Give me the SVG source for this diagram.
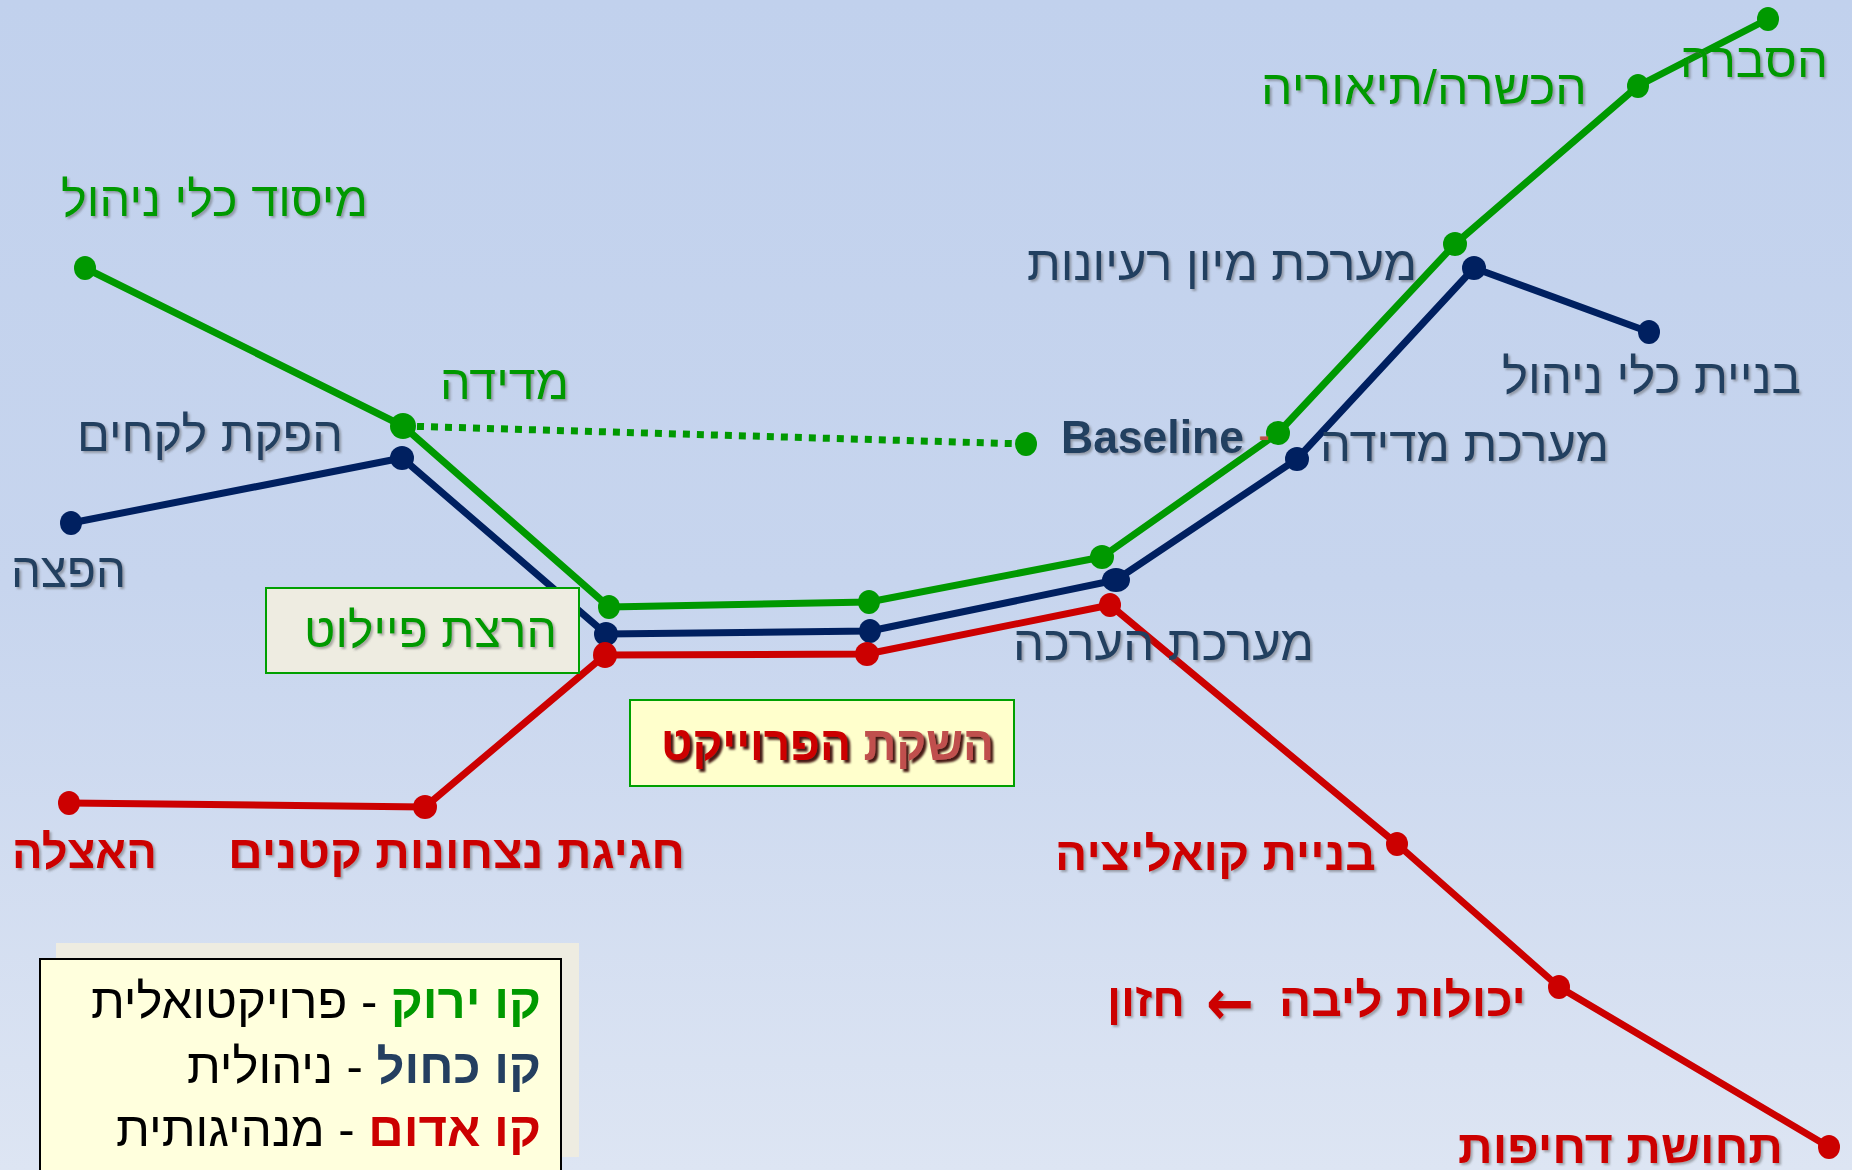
<svg xmlns="http://www.w3.org/2000/svg" width="1852" height="1170" viewBox="0 0 1852 1170">
<defs>
<linearGradient id="bg" x1="0" y1="0" x2="0" y2="1">
<stop offset="0" stop-color="#C1D1ED"/>
<stop offset="0.5" stop-color="#C7D5EE"/>
<stop offset="1" stop-color="#DDE5F3"/>
</linearGradient>
<filter id="sh" x="-5%" y="-20%" width="115%" height="150%">
<feDropShadow dx="2" dy="2" stdDeviation="1.2" flood-color="#555" flood-opacity="0.45"/>
</filter>
<filter id="sh2" x="-5%" y="-20%" width="115%" height="150%">
<feDropShadow dx="3" dy="3" stdDeviation="1" flood-color="#300000" flood-opacity="0.9"/>
</filter>
</defs>
<style>
text{font-family:"Liberation Sans","DejaVu Sans",sans-serif;}
.g{fill:#009900;font-size:49px;}
.b{fill:#243F60;font-size:49px;}
.r{fill:#CC0000;font-size:47px;font-weight:bold;}
.lbl{filter:url(#sh);}
.gl{fill:none;stroke:#009900;stroke-width:7;stroke-linejoin:round;}
.bl{fill:none;stroke:#002060;stroke-width:7;stroke-linejoin:round;}
.rl{fill:none;stroke:#CC0000;stroke-width:7;stroke-linejoin:round;}
.gd{fill:#009900;}
.bd{fill:#002060;}
.rd{fill:#CC0000;}
.leg{font-size:48px;fill:#000;}
</style>
<rect x="0" y="0" width="1852" height="1170" fill="url(#bg)"/>

<g id="connectors">
<polyline class="gl" points="85,268 403,426 609,607 869,602 1102,557 1278,433 1455,244 1638,86 1768,19"/>
<polyline class="gl" points="403,426 1026,444" stroke-dasharray="7 7"/>
<polyline class="bl" points="71,523 402,458 606,634 870,631 1116,580 1297,459 1474,268 1649,332"/>
<polyline class="rl" points="69,803 425,807 605,655 867,654 1110,605 1397,844 1559,987 1829,1147"/>
</g>

<g id="green-nodes">
<g id="g-misud"><ellipse class="gd" cx="85" cy="268" rx="11" ry="12"/><text class="g lbl" x="368" y="216" text-anchor="end" textLength="307" lengthAdjust="spacingAndGlyphs">מיסוד כלי ניהול</text></g>
<g id="g-medida"><ellipse class="gd" cx="403" cy="426" rx="13" ry="13"/><text class="g lbl" x="569" y="399" text-anchor="end" textLength="129" lengthAdjust="spacingAndGlyphs">מדידה</text></g>
<g id="g-baseline"><ellipse class="gd" cx="1026" cy="444" rx="11" ry="12"/></g>
<g id="g-pilot-pt"><ellipse class="gd" cx="609" cy="607" rx="11" ry="12"/></g>
<g id="g-launch-pt"><ellipse class="gd" cx="869" cy="602" rx="11" ry="12"/></g>
<g id="g-eval-pt"><ellipse class="gd" cx="1102" cy="557" rx="12" ry="12"/></g>
<g id="g-measure-pt"><ellipse class="gd" cx="1278" cy="433" rx="12" ry="12"/></g>
<g id="g-ideas-pt"><ellipse class="gd" cx="1455" cy="244" rx="12" ry="12"/></g>
<g id="g-hachshara"><ellipse class="gd" cx="1638" cy="86" rx="11" ry="12"/><text class="g lbl" x="1587" y="104" text-anchor="end" textLength="326" lengthAdjust="spacingAndGlyphs">הכשרה/תיאוריה</text></g>
<g id="g-hasbara"><ellipse class="gd" cx="1768" cy="19" rx="11" ry="12"/><text class="g lbl" x="1828" y="77" text-anchor="end" textLength="148" lengthAdjust="spacingAndGlyphs">הסברה</text></g>
</g>

<g id="blue-nodes">
<g id="b-hafatza"><ellipse class="bd" cx="71" cy="523" rx="11" ry="12"/><text class="b lbl" x="126" y="587" text-anchor="end" textLength="115" lengthAdjust="spacingAndGlyphs">הפצה</text></g>
<g id="b-lekachim"><ellipse class="bd" cx="402" cy="458" rx="12" ry="12"/><text class="b lbl" x="343" y="451" text-anchor="end" textLength="266" lengthAdjust="spacingAndGlyphs">הפקת לקחים</text></g>
<g id="b-pilot-pt"><ellipse class="bd" cx="606" cy="634" rx="12" ry="12"/></g>
<g id="b-launch-pt"><ellipse class="bd" cx="870" cy="631" rx="11" ry="12"/></g>
<g id="b-haaracha"><ellipse class="bd" cx="1116" cy="580" rx="14" ry="12"/><text class="b lbl" x="1314" y="660" text-anchor="end" textLength="301" lengthAdjust="spacingAndGlyphs">מערכת הערכה</text></g>
<g id="b-medida"><ellipse class="bd" cx="1297" cy="459" rx="12" ry="12"/><text class="b lbl" x="1609" y="461" text-anchor="end" textLength="289" lengthAdjust="spacingAndGlyphs">מערכת מדידה</text></g>
<g id="b-miyun"><ellipse class="bd" cx="1474" cy="268" rx="12" ry="12"/><text class="b lbl" x="1417" y="280" text-anchor="end" textLength="390" lengthAdjust="spacingAndGlyphs">מערכת מיון רעיונות</text></g>
<g id="b-klei"><ellipse class="bd" cx="1649" cy="332" rx="11" ry="12"/><text class="b lbl" x="1801" y="393" text-anchor="end" textLength="299" lengthAdjust="spacingAndGlyphs">בניית כלי ניהול</text></g>
<g id="baseline-label"><text class="lbl" x="1061" y="453" font-size="46" font-weight="bold" fill="#243F60" textLength="183" lengthAdjust="spacingAndGlyphs">Baseline</text><text x="1259" y="446" font-size="30" font-weight="bold" fill="#C0504D">-</text></g>
</g>

<g id="red-nodes">
<g id="r-haatzala"><ellipse class="rd" cx="69" cy="803" rx="11" ry="12"/><text class="r lbl" x="157" y="868" text-anchor="end" textLength="145" lengthAdjust="spacingAndGlyphs">האצלה</text></g>
<g id="r-chagigat"><ellipse class="rd" cx="425" cy="807" rx="12" ry="12"/><text class="r lbl" x="685" y="868" text-anchor="end" textLength="457" lengthAdjust="spacingAndGlyphs">חגיגת נצחונות קטנים</text></g>
<g id="r-pilot-pt"><ellipse class="rd" cx="605" cy="655" rx="12" ry="13"/></g>
<g id="r-launch-pt"><ellipse class="rd" cx="867" cy="654" rx="12" ry="12"/></g>
<g id="r-eval-pt"><ellipse class="rd" cx="1110" cy="605" rx="11" ry="12"/></g>
<g id="r-koalitzia"><ellipse class="rd" cx="1397" cy="844" rx="11" ry="12"/><text class="r lbl" x="1376" y="870" text-anchor="end" textLength="321" lengthAdjust="spacingAndGlyphs">בניית קואליציה</text></g>
<g id="r-yecholot"><ellipse class="rd" cx="1559" cy="987" rx="11" ry="12"/>
<text class="r lbl" x="1526" y="1016" text-anchor="end" textLength="247" lengthAdjust="spacingAndGlyphs">יכולות ליבה</text>
<text class="lbl" x="1254" y="1025" text-anchor="end" style="font-family:'DejaVu Sans',sans-serif;font-weight:bold;font-size:64px;fill:#CC0000" textLength="48" lengthAdjust="spacingAndGlyphs">←</text>
<text class="r lbl" x="1185" y="1016" text-anchor="end" textLength="78" lengthAdjust="spacingAndGlyphs">חזון</text></g>
<g id="r-dchifut"><ellipse class="rd" cx="1829" cy="1147" rx="11" ry="12"/><text class="r lbl" x="1783" y="1163" text-anchor="end" textLength="325" lengthAdjust="spacingAndGlyphs">תחושת דחיפות</text></g>
</g>

<g id="pilot-box">
<rect x="266" y="588" width="313" height="85" fill="#EEECE1" stroke="#00A000" stroke-width="2"/>
<text class="g lbl" x="557" y="647" text-anchor="end" textLength="253" lengthAdjust="spacingAndGlyphs">הרצת פיילוט</text>
</g>

<g id="launch-box">
<rect x="630" y="700" width="384" height="86" fill="#FFFFCC" stroke="#00A000" stroke-width="2"/>
<text x="994" y="760" text-anchor="end" font-size="48" font-weight="bold" filter="url(#sh2)" textLength="333" lengthAdjust="spacingAndGlyphs"><tspan fill="#C0504D">השקת</tspan> <tspan fill="#CC0000">הפרוייקט</tspan></text>
</g>

<g id="legend">
<rect x="56" y="943" width="523" height="214" fill="#EEECE1"/>
<rect x="40" y="959" width="521" height="220" fill="#FFFFDD" stroke="#000" stroke-width="2"/>
<text class="leg" x="541" y="1018" text-anchor="end" textLength="450" lengthAdjust="spacingAndGlyphs"><tspan fill="#009900" font-weight="bold">קו ירוק</tspan> - פרויקטואלית</text>
<text class="leg" x="541" y="1083" text-anchor="end" textLength="354" lengthAdjust="spacingAndGlyphs"><tspan fill="#243F60" font-weight="bold">קו כחול</tspan> - ניהולית</text>
<text class="leg" x="541" y="1146" text-anchor="end" textLength="425" lengthAdjust="spacingAndGlyphs"><tspan fill="#CC0000" font-weight="bold">קו אדום</tspan> - מנהיגותית</text>
</g>
</svg>
